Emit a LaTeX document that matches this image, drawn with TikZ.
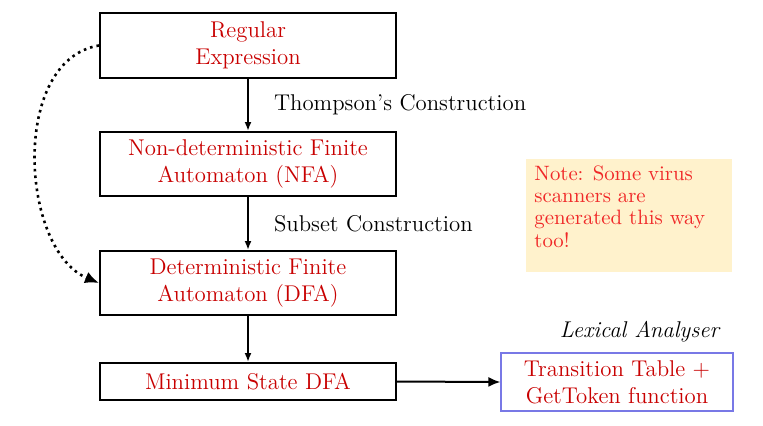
\documentclass[tikz,border=0pt]{standalone}
\usetikzlibrary{arrows.meta}
\definecolor{boxred}{RGB}{200,0,0}
\definecolor{notered}{RGB}{240,40,40}
\definecolor{notefill}{RGB}{255,242,204}
\definecolor{boxblue}{RGB}{120,120,230}
\begin{document}
\begin{tikzpicture}[x=0.5pt,y=-0.5pt,
  every node/.style={font=\fontsize{11.4}{13.5}\selectfont},
  stagebox/.style={draw=black,line width=1pt,minimum width=148pt,align=center,text=boxred,inner sep=0pt},
  flow/.style={-{Latex[length=4.5pt,width=3.5pt]},line width=1pt},
  lbl/.style={anchor=west,text=black,inner sep=0pt}]
\useasboundingbox (0,0) rectangle (763,425);
\node[stagebox,minimum height=32.5pt] (re) at (248,45.5) {Regular\\Expression};
\node[stagebox,minimum height=32pt] (nfa) at (248,164) {Non-deterministic Finite\\Automaton (NFA)};
\node[stagebox,minimum height=32pt] (dfa) at (248,283) {Deterministic Finite\\Automaton (DFA)};
\node[stagebox,minimum height=18.5pt] (min) at (248,381.5) {Minimum State DFA};
\node[draw=boxblue,line width=0.6pt,minimum width=116pt,minimum height=29pt,align=center,text=boxred,inner sep=0pt] (tt) at (617,382) {Transition Table +\\GetToken function};
\node[anchor=north west,fill=notefill,minimum width=103pt,minimum height=56.5pt,inner sep=0pt] (notebg) at (526,159) {};
\node[anchor=north west,align=left,text=notered,inner sep=0pt,font=\fontsize{10.4}{11.2}\selectfont] (note) at (534,165) {Note: Some virus\\scanners are\\generated this way\\too!};
\node[text=black,font=\fontsize{11.4}{13.5}\itshape] (lex) at (639.5,332) {Lexical Analyser};
\draw[flow] (re) -- (nfa) node[lbl,midway,xshift=12.5pt] (l1) {Thompson's Construction};
\draw[flow] (nfa) -- (dfa) node[lbl,midway,xshift=12.5pt] (l2) {Subset Construction};
\draw[flow] (dfa) -- (min);
\draw[-{Latex[length=6pt,width=5pt]},line width=1pt] (min.east) -- (tt.west);
\draw[line width=1.3pt,dotted,-{Latex[length=7pt,width=6pt]}] (re.west) .. controls (10,60) and (20,250) .. (dfa.west);
\end{tikzpicture}
\end{document}
